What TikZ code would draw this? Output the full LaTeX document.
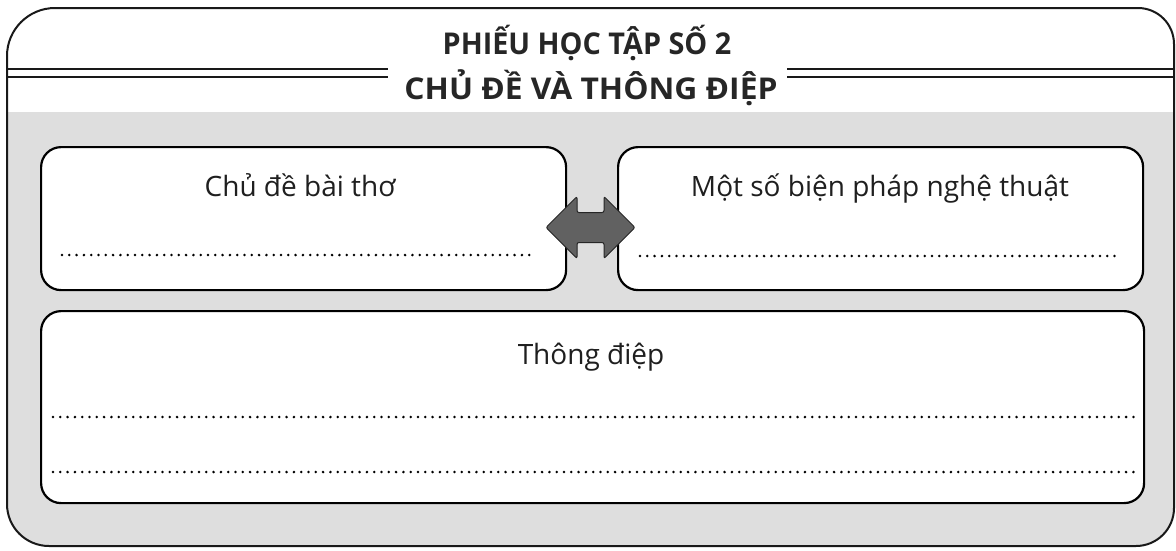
\documentclass[tikz,border=0pt]{standalone}
\usepackage{fontspec}
\setmainfont{Open Sans}
\usetikzlibrary{shapes.arrows}

\begin{document}
\begin{tikzpicture}[x=1pt,y=-1pt,
  frameoutline/.style={insert path={(7,300) [rounded corners=48pt] |- (600,8)
      [rounded corners=36pt] -| (1174,300) [rounded corners=38pt] |- (600,546)
      [rounded corners=42pt] -| cycle}},
  halftone/.style={fill=black!13},
  panel/.style={draw=black, line width=2.2pt, fill=white, rounded corners=20pt,
    inner sep=0pt, anchor=north west},
  heading/.style={font=\bfseries\fontsize{30}{34}\selectfont, text=black!85,
    inner sep=0pt, anchor=base},
  caption/.style={font=\fontsize{28}{32}\selectfont, text=black!88,
    inner sep=0pt, anchor=base},
  dots/.style={line width=2.8pt, line cap=round, dash pattern=on 0pt off 7.3pt,
    black},
  rule/.style={line width=2pt, black!90},
  linkarrow/.style={double arrow, draw=black!85, fill=black!62, line width=1pt,
    minimum height=89pt, inner xsep=0pt, inner ysep=14.5pt,
    double arrow head extend=16pt, rounded corners=2pt},
]
\useasboundingbox (0,0) rectangle (1176,550);

% shaded lower part of the sheet
\begin{scope}
  \clip[frameoutline];
  \fill[halftone] (0,112) rectangle (1176,560);
\end{scope}
\draw[line width=2pt, black!90, frameoutline];

% double rules either side of the heading
\draw[rule] (7,69) -- (388,69);
\draw[rule] (7,77) -- (388,77);
\draw[rule] (787,69) -- (1174,69);
\draw[rule] (787,77) -- (1174,77);

% heading
\node[heading] (title1) at (587,54) {\scalebox{0.96}[1]{PHIẾU HỌC TẬP SỐ 2}};
\node[heading] (title2) at (591,99) {\scalebox{1.06}[1]{CHỦ ĐỀ VÀ THÔNG ĐIỆP}};

% answer panels
\node[panel, minimum width=525pt, minimum height=143pt] (theme) at (40,146) {};
\node[panel, minimum width=525pt, minimum height=143pt] (devices) at (617,146) {};
\node[panel, minimum width=1103pt, minimum height=192pt] (message) at (40,310) {};

\node[caption] (themelabel) at (300,196) {Chủ đề bài thơ};
\node[caption] (deviceslabel) at (880,196) {Một số biện pháp nghệ thuật};
\node[caption] (messagelabel) at (591,364) {Thông điệp};

% dotted answer lines
\draw[dots] (62,255) -- (532,255);
\draw[dots] (640,256) -- (1116,256);
\draw[dots] (53,417) -- (1134,417);
\draw[dots] (53,472) -- (1134,472);

% two-way arrow linking the upper panels
\node[linkarrow] (link) at (590.5,227.5) {};
\end{tikzpicture}
\end{document}
